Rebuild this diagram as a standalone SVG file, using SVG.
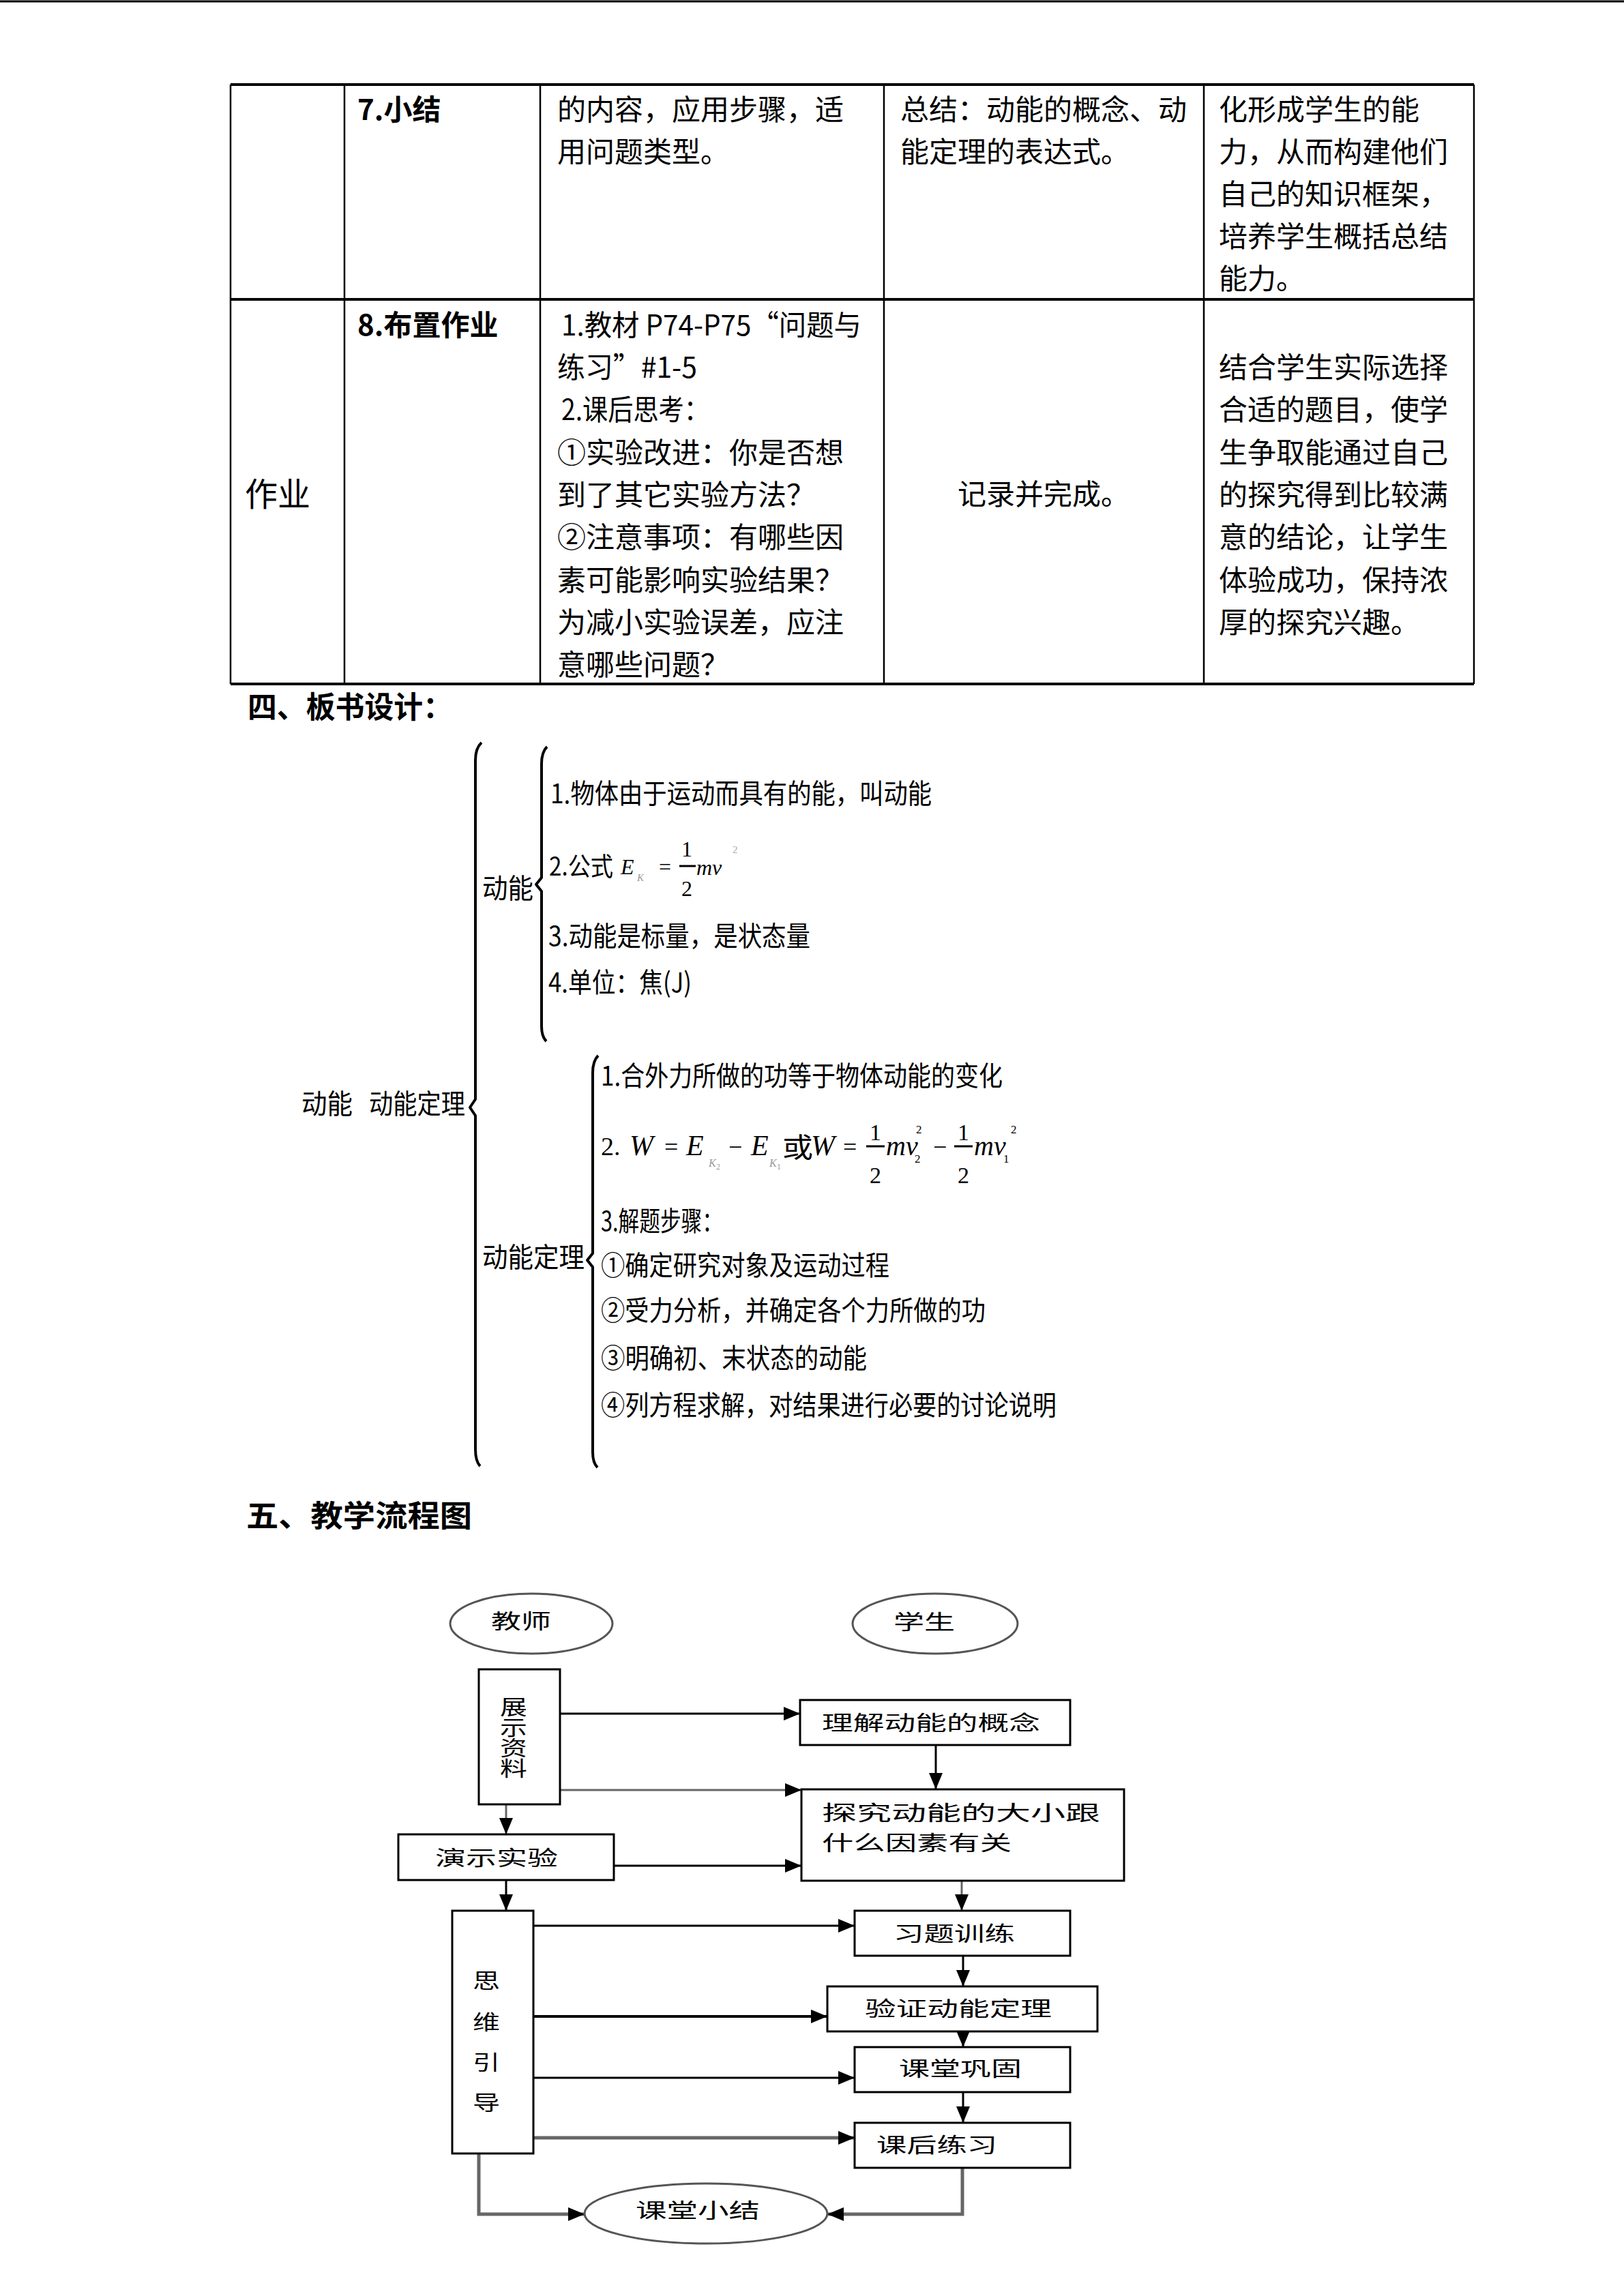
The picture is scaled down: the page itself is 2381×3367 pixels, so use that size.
<svg xmlns="http://www.w3.org/2000/svg" width="2381" height="3367" viewBox="0 0 2381 3367">
<style>
text { font-family: "Noto Sans CJK SC", "Liberation Sans", sans-serif; fill: #000; }
.t { font-size: 42px; }
.tb { font-size: 42px; font-weight: bold; }
.h { font-size: 44px; font-weight: bold; }
.bd { font-size: 40px; }
.fc { font-size: 30px; }
.m { font-family: "Liberation Serif", serif; font-style: italic; }
.mr { font-family: "Liberation Serif", serif; }
.grid { stroke: #000; stroke-width: 2.5; fill: none; }
.hgrid { stroke: #000; stroke-width: 4; fill: none; }
.brace { stroke: #000; stroke-width: 4; fill: none; stroke-linejoin: round; }
.node { fill: #fff; stroke: #000; stroke-width: 3; }
.ell { fill: #fff; stroke: #555; stroke-width: 3; }
.conn { stroke: #000; stroke-width: 3; fill: none; marker-end: url(#ah); }
.gray { stroke: #666; }
.thick { stroke-width: 5; }
.vt { font-size: 30px; writing-mode: vertical-rl; }
</style>
<defs>
<marker id="ah" markerUnits="userSpaceOnUse" markerWidth="24" markerHeight="20" refX="24" refY="10" orient="auto">
<path d="M0,0 L24,10 L0,20 z" fill="#000"/>
</marker>
</defs>
<rect x="0" y="0" width="2381" height="3367" fill="#fff"/>
<line x1="0" y1="2" x2="2381" y2="2" stroke="#000" stroke-width="3"/>

<g id="table">
<line class="hgrid" x1="338" y1="124" x2="2161" y2="124"/>
<line class="hgrid" x1="338" y1="439" x2="2161" y2="439"/>
<line class="hgrid" x1="338" y1="1003" x2="2161" y2="1003"/>
<line class="grid" x1="338" y1="124" x2="338" y2="1003"/>
<line class="grid" x1="505" y1="124" x2="505" y2="1003"/>
<line class="grid" x1="792" y1="124" x2="792" y2="1003"/>
<line class="grid" x1="1296" y1="124" x2="1296" y2="1003"/>
<line class="grid" x1="1765" y1="124" x2="1765" y2="1003"/>
<line class="grid" x1="2161" y1="124" x2="2161" y2="1003"/>

<text class="tb" x="524" y="176">7.小结</text>
<text class="t" x="817" y="176">的内容，应用步骤，适</text>
<text class="t" x="817" y="238">用问题类型。</text>
<text class="t" x="1320" y="176">总结：动能的概念、动</text>
<text class="t" x="1320" y="238">能定理的表达式。</text>
<text class="t" x="1787" y="176">化形成学生的能</text>
<text class="t" x="1787" y="238">力，从而构建他们</text>
<text class="t" x="1787" y="300">自己的知识框架，</text>
<text class="t" x="1787" y="362">培养学生概括总结</text>
<text class="t" x="1787" y="424">能力。</text>

<text x="359" y="742" style="font-size:48px">作业</text>
<text class="tb" x="524" y="492">8.布置作业</text>
<text class="t" x="823" y="492" textLength="440" lengthAdjust="spacingAndGlyphs">1.教材 P74-P75“问题与</text>
<text class="t" x="817" y="554" textLength="205" lengthAdjust="spacingAndGlyphs">练习”#1-5</text>
<text class="t" x="823" y="616" textLength="217" lengthAdjust="spacingAndGlyphs">2.课后思考：</text>
<text class="t" x="817" y="679">①实验改进：你是否想</text>
<text class="t" x="817" y="741">到了其它实验方法？</text>
<text class="t" x="817" y="803">②注意事项：有哪些因</text>
<text class="t" x="817" y="866">素可能影响实验结果？</text>
<text class="t" x="817" y="928">为减小实验误差，应注</text>
<text class="t" x="817" y="990">意哪些问题？</text>
<text class="t" x="1404" y="740">记录并完成。</text>
<text class="t" x="1787" y="554">结合学生实际选择</text>
<text class="t" x="1787" y="616">合适的题目，使学</text>
<text class="t" x="1787" y="679">生争取能通过自己</text>
<text class="t" x="1787" y="741">的探究得到比较满</text>
<text class="t" x="1787" y="803">意的结论，让学生</text>
<text class="t" x="1787" y="866">体验成功，保持浓</text>
<text class="t" x="1787" y="928">厚的探究兴趣。</text>
</g>

<g id="heading-board">
<text class="h" x="363" y="1053" textLength="300" lengthAdjust="spacingAndGlyphs">四、板书设计：</text>
</g>

<g id="board">
<path class="brace" d="M706,1089 Q697,1097 697,1115 V1612 L689,1624 L697,1636 V2125 Q697,2143 704,2150"/>
<path class="brace" d="M802,1095 Q794,1103 794,1120 V1287 L786,1297 L794,1307 V1505 Q794,1520 801,1527"/>
<path class="brace" d="M877,1548 Q869,1556 869,1573 V1838 L861,1848 L869,1858 V2130 Q869,2145 876,2152"/>

<text class="bd" x="442" y="1633" textLength="75" lengthAdjust="spacingAndGlyphs">动能</text>
<text class="bd" x="541" y="1633" textLength="141" lengthAdjust="spacingAndGlyphs">动能定理</text>

<text class="bd" x="707" y="1317" textLength="75" lengthAdjust="spacingAndGlyphs">动能</text>
<text class="bd" x="807" y="1178" textLength="559" lengthAdjust="spacingAndGlyphs">1.物体由于运动而具有的能，叫动能</text>
<text x="805" y="1284" style="font-size:38px" textLength="94" lengthAdjust="spacingAndGlyphs">2.公式</text>
<text class="m" x="910" y="1282" style="font-size:32px">E</text>
<text class="m" x="934" y="1292" style="font-size:15px;fill:#999">K</text>
<text class="mr" x="966" y="1282" style="font-size:32px">=</text>
<text class="mr" x="999" y="1256" style="font-size:32px">1</text>
<line x1="996" y1="1270" x2="1020" y2="1270" stroke="#000" stroke-width="3"/>
<text class="mr" x="999" y="1314" style="font-size:32px">2</text>
<text class="m" x="1021" y="1283" style="font-size:32px">mv</text>
<text class="mr" x="1074" y="1251" style="font-size:15px;fill:#aaa">2</text>
<text class="bd" x="804" y="1387" textLength="384" lengthAdjust="spacingAndGlyphs">3.动能是标量，是状态量</text>
<text class="bd" x="804" y="1455" textLength="210" lengthAdjust="spacingAndGlyphs">4.单位：焦(J)</text>

<text class="bd" x="707" y="1858" textLength="150" lengthAdjust="spacingAndGlyphs">动能定理</text>
<text class="bd" x="881" y="1592" textLength="589" lengthAdjust="spacingAndGlyphs">1.合外力所做的功等于物体动能的变化</text>
<text class="mr" x="881" y="1694" style="font-size:38px">2.</text>
<text class="m" x="923" y="1694" style="font-size:42px">W</text>
<text class="mr" x="974" y="1694" style="font-size:36px">=</text>
<text class="m" x="1006" y="1694" style="font-size:42px">E</text>
<text class="m" x="1039" y="1711" style="font-size:16px;fill:#999">K</text>
<text class="mr" x="1050" y="1715" style="font-size:12px;fill:#999">2</text>
<text class="mr" x="1068" y="1694" style="font-size:36px">−</text>
<text class="m" x="1101" y="1694" style="font-size:42px">E</text>
<text class="m" x="1128" y="1711" style="font-size:16px;fill:#999">K</text>
<text class="mr" x="1139" y="1715" style="font-size:12px;fill:#999">1</text>
<text x="1147" y="1697" style="font-size:40px" textLength="45" lengthAdjust="spacingAndGlyphs">或</text>
<text class="m" x="1189" y="1694" style="font-size:42px">W</text>
<text class="mr" x="1236" y="1694" style="font-size:36px">=</text>
<text class="mr" x="1275" y="1672" style="font-size:34px">1</text>
<line x1="1270" y1="1681" x2="1297" y2="1681" stroke="#000" stroke-width="3"/>
<text class="mr" x="1275" y="1735" style="font-size:34px">2</text>
<text class="m" x="1299" y="1694" style="font-size:40px">mv</text>
<text class="mr" x="1341" y="1705" style="font-size:17px">2</text>
<text class="mr" x="1343" y="1662" style="font-size:17px">2</text>
<text class="mr" x="1368" y="1694" style="font-size:36px">−</text>
<text class="mr" x="1404" y="1672" style="font-size:34px">1</text>
<line x1="1399" y1="1681" x2="1426" y2="1681" stroke="#000" stroke-width="3"/>
<text class="mr" x="1404" y="1735" style="font-size:34px">2</text>
<text class="m" x="1428" y="1694" style="font-size:40px">mv</text>
<text class="mr" x="1471" y="1705" style="font-size:17px">1</text>
<text class="mr" x="1482" y="1662" style="font-size:17px">2</text>
<text class="bd" x="881" y="1805" textLength="179" lengthAdjust="spacingAndGlyphs">3.解题步骤：</text>
<text class="bd" x="881" y="1870" textLength="423" lengthAdjust="spacingAndGlyphs">①确定研究对象及运动过程</text>
<text class="bd" x="881" y="1936" textLength="564" lengthAdjust="spacingAndGlyphs">②受力分析，并确定各个力所做的功</text>
<text class="bd" x="881" y="2006" textLength="390" lengthAdjust="spacingAndGlyphs">③明确初、末状态的动能</text>
<text class="bd" x="881" y="2075" textLength="668" lengthAdjust="spacingAndGlyphs">④列方程求解，对结果进行必要的讨论说明</text>
</g>

<g id="heading-flow">
<text class="h" x="361" y="2239" textLength="331" lengthAdjust="spacingAndGlyphs">五、教学流程图</text>
</g>

<g id="connectors">
<path class="conn" d="M821,2513 H1173"/>
<path class="conn gray" d="M821,2625 H1175"/>
<path class="conn" d="M1372,2559 V2624"/>
<path class="conn gray" d="M742,2646 V2690"/>
<path class="conn" d="M900,2736 H1175"/>
<path class="conn" d="M742,2757 V2802"/>
<path class="conn gray" d="M1410,2758 V2802"/>
<path class="conn" d="M782,2824 H1253"/>
<path class="conn" d="M1412,2868 V2913"/>
<path class="conn" style="stroke-width:4" d="M782,2957 H1213"/>
<path class="conn" d="M1412,2979 V3002"/>
<path class="conn" d="M782,3047 H1253"/>
<path class="conn" d="M1412,3068 V3113"/>
<path class="conn gray thick" d="M782,3135 H1253"/>
<path class="conn gray thick" d="M702,3158 V3247 H857"/>
<path class="conn gray thick" d="M1411,3179 V3247 H1213"/>
</g>

<g id="node-teacher">
<ellipse class="ell" cx="779" cy="2381" rx="119" ry="44"/>
<text class="fc" x="720" y="2388" textLength="88" lengthAdjust="spacingAndGlyphs">教师</text>
</g>
<g id="node-student">
<ellipse class="ell" cx="1371" cy="2381" rx="121" ry="44"/>
<text class="fc" x="1310" y="2389" textLength="90" lengthAdjust="spacingAndGlyphs">学生</text>
</g>
<g id="node-show">
<rect class="node" x="702" y="2448" width="119" height="198"/>
<text class="vt" x="0" y="2488" transform="translate(753,0) scale(1.33,1)">展示资料</text>
</g>
<g id="node-understand">
<rect class="node" x="1173" y="2493" width="396" height="66"/>
<text class="fc" x="1205" y="2537" textLength="320" lengthAdjust="spacingAndGlyphs">理解动能的概念</text>
</g>
<g id="node-explore">
<rect class="node" x="1175" y="2624" width="473" height="134"/>
<text class="fc" x="1205" y="2669" textLength="408" lengthAdjust="spacingAndGlyphs">探究动能的大小跟</text>
<text class="fc" x="1205" y="2713" textLength="278" lengthAdjust="spacingAndGlyphs">什么因素有关</text>
</g>
<g id="node-demo">
<rect class="node" x="584" y="2690" width="316" height="67"/>
<text class="fc" x="638" y="2735" textLength="180" lengthAdjust="spacingAndGlyphs">演示实验</text>
</g>
<g id="node-guide">
<rect class="node" x="663" y="2802" width="119" height="356"/>
<text class="fc" x="693" y="2915" textLength="40" lengthAdjust="spacingAndGlyphs">思</text>
<text class="fc" x="693" y="2976" textLength="40" lengthAdjust="spacingAndGlyphs">维</text>
<text class="fc" x="693" y="3035" textLength="40" lengthAdjust="spacingAndGlyphs">引</text>
<text class="fc" x="693" y="3094" textLength="40" lengthAdjust="spacingAndGlyphs">导</text>
</g>
<g id="node-exercise">
<rect class="node" x="1253" y="2802" width="316" height="66"/>
<text class="fc" x="1310" y="2846" textLength="178" lengthAdjust="spacingAndGlyphs">习题训练</text>
</g>
<g id="node-verify">
<rect class="node" x="1213" y="2913" width="396" height="66"/>
<text class="fc" x="1268" y="2956" textLength="274" lengthAdjust="spacingAndGlyphs">验证动能定理</text>
</g>
<g id="node-consolidate">
<rect class="node" x="1253" y="3002" width="316" height="66"/>
<text class="fc" x="1318" y="3044" textLength="180" lengthAdjust="spacingAndGlyphs">课堂巩固</text>
</g>
<g id="node-homework">
<rect class="node" x="1253" y="3113" width="316" height="66"/>
<text class="fc" x="1285" y="3156" textLength="177" lengthAdjust="spacingAndGlyphs">课后练习</text>
</g>
<g id="node-summary">
<ellipse class="ell" cx="1035" cy="3246" rx="178" ry="44"/>
<text class="fc" x="932" y="3252" textLength="182" lengthAdjust="spacingAndGlyphs">课堂小结</text>
</g>
</svg>
